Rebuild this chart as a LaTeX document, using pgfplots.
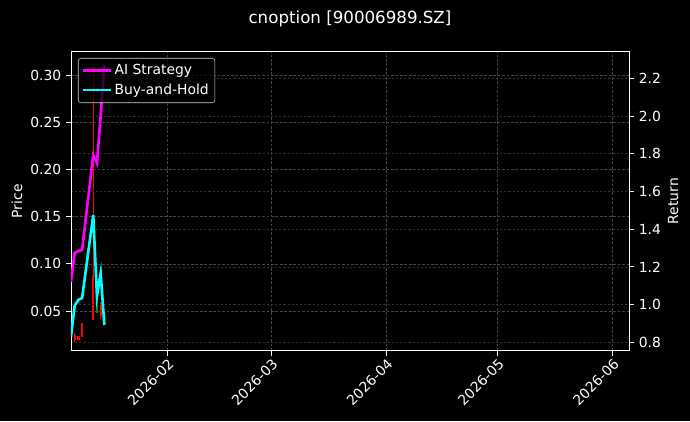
\documentclass[border=0pt]{standalone}
\usepackage{fontspec}
\setmainfont{DejaVu Sans}
\usepackage{pgfplots}
\pgfplotsset{compat=1.18}

\definecolor{gridc}{RGB}{68,68,68}
\definecolor{gridr}{RGB}{48,48,48}
\definecolor{legedge}{RGB}{204,204,204}
\definecolor{candlegreen}{RGB}{0,150,0}
\definecolor{candlered}{RGB}{255,0,0}
\definecolor{aimag}{RGB}{255,0,255}
\definecolor{bhcyan}{RGB}{0,255,255}

% shared look of both axes (price on the left, return on the right)
\pgfplotsset{
  darkax/.style={
    scale only axis,
    at={(51.1pt,50.6pt)}, anchor=south west,
    width=401.8pt, height=215.3pt,
    xmin=5, xmax=155.4,
    axis line style={white, line width=0.6pt},
    tick style={white, line width=0.6pt},
    major tick length=3.5pt,
    tick align=outside,
    ticklabel style={white, font=\fontsize{10}{12}\selectfont},
    label style={white, font=\fontsize{10}{12}\selectfont},
    /pgf/number format/assume math mode=true,
    grid style={gridc, dash pattern=on 2pt off 1.2pt, line width=0.4pt},
  },
}

\begin{document}
\begin{tikzpicture}
\fill[black] (0,0) rectangle (496.8pt,303.12pt);
\useasboundingbox (0,0) rectangle (496.8pt,303.12pt);
\node[white, font=\fontsize{12}{14}\selectfont] at (252pt,289.4pt) {cnoption [90006989.SZ]};

% x: days since 2026-01-01
\begin{axis}[darkax,
  ymin=0.0079, ymax=0.3247,
  ytick={0.05,0.1,0.15,0.2,0.25,0.3},
  yticklabel style={/pgf/number format/.cd, fixed, fixed zerofill, precision=2},
  xtick={31,59,90,120,151},
  xticklabels={2026-02,2026-03,2026-04,2026-05,2026-06},
  xticklabel style={rotate=45, anchor=north east, inner sep=1pt},
  xtick pos=bottom, ytick pos=left,
  xmajorgrids, ymajorgrids,
  ylabel={Price},
  ylabel style={at={(axis description cs:-0.097,0.5)}, anchor=center},
  unbounded coords=jump,
]
% wicks
\addplot[candlered, line width=0.9pt] coordinates {
  (6,0.0175) (6,0.0262) (6,nan)
  (7,0.0190) (7,0.0238) (7,nan)
  (8,0.0225) (8,0.0372) (8,nan)
  (11,0.0400) (11,0.3100) (11,nan)
  (13,0.0420) (13,0.0600)
};
% bodies
\addplot[candlered, line width=1.6pt] coordinates {
  (6,0.0190) (6,0.0250) (6,nan)
  (7,0.0193) (7,0.0235) (7,nan)
  (8,0.0228) (8,0.0370) (8,nan)
  (11,0.0405) (11,0.0880) (11,nan)
  (13,0.0436) (13,0.0585)
};
\addplot[candlegreen, line width=0.9pt] coordinates {(12,0.0477) (12,0.0669)};
\addplot[candlegreen, line width=1.6pt] coordinates {(12,0.0510) (12,0.0599)};
\end{axis}

\begin{axis}[darkax,
  ymin=0.7555, ymax=2.341,
  ytick={0.8,1.0,1.2,1.4,1.6,1.8,2.0,2.2},
  yticklabel style={/pgf/number format/.cd, fixed, fixed zerofill, precision=1},
  xtick=\empty,
  ytick pos=right, yticklabel pos=right,
  ymajorgrids,
  grid style={gridr, dash pattern=on 1.5pt off 1.5pt, line width=0.4pt},
  ylabel={Return},
  ylabel style={at={(axis description cs:1.079,0.5)}, anchor=center},
  legend style={at={(axis description cs:0.0125,0.979)}, anchor=north west,
    fill=black, fill opacity=0.75, text opacity=1, draw=legedge,
    rounded corners=2pt, text=white, font=\fontsize{10}{12}\selectfont,
    inner sep=2.5pt, row sep=1pt},
  legend cell align=left,
  legend image code/.code={\draw[#1, line width=1.8pt] (0cm,0cm) -- (0.7cm,0cm);},
]
\addplot[aimag, line width=1.9pt] coordinates {
  (5,1.12) (6,1.274) (7,1.284) (8,1.29) (11,1.793) (12,1.75) (13,2.0) (14,2.27)
};
\addlegendentry{AI Strategy}
\addplot[bhcyan, line width=1.9pt] coordinates {
  (5,0.83) (6,0.995) (7,1.025) (8,1.035) (11,1.475) (12,1.046) (13,1.167) (14,0.892)
};
\addlegendentry{Buy-and-Hold}
\end{axis}
\end{tikzpicture}
\end{document}
